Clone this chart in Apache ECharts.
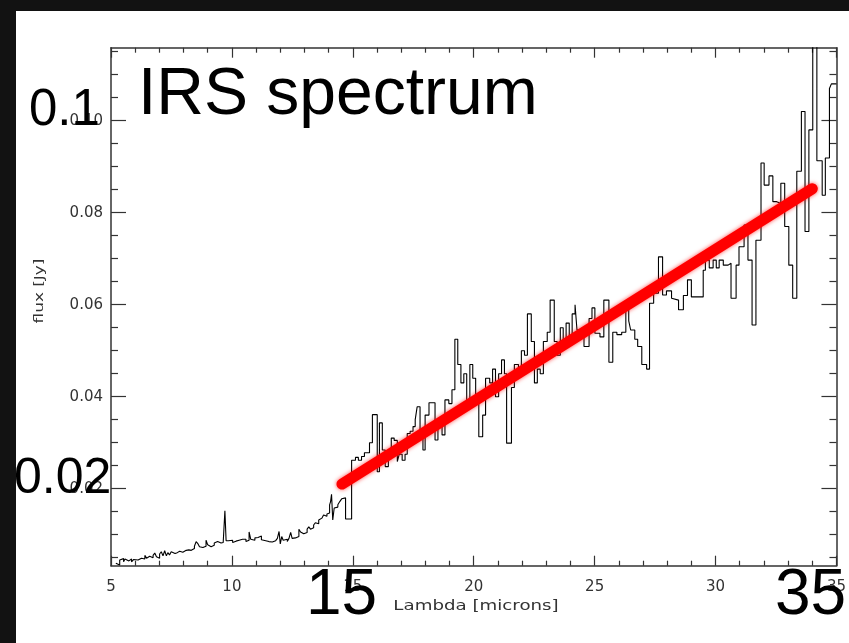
<!DOCTYPE html>
<html>
<head>
<meta charset="utf-8">
<title>IRS spectrum</title>
<script src="https://cdn.jsdelivr.net/npm/echarts@6/dist/echarts.min.js"></script>
<style>
  html, body { margin: 0; padding: 0; background: #ffffff; }
  #chart { width: 849px; height: 643px; }
</style>
</head>
<body>
<div id="chart"></div>
<script>
// Short-wavelength module (5–15 µm): bin start wavelengths [microns] and flux [Jy]
const lamShort = [5.20,5.28,5.36,5.44,5.52,5.58,5.66,5.74,5.85,5.93,5.99,6.12,6.20,6.26,6.34,6.40,6.47,6.54,6.60,6.67,6.74,6.81,6.88,6.94,7.01,7.08,7.15,7.22,7.29,7.35,7.42,7.49,7.56,7.65,7.74,7.84,7.97,8.11,8.22,8.32,8.45,8.52,8.60,8.66,8.73,8.80,8.86,8.93,9.00,9.07,9.14,9.20,9.27,9.34,9.41,9.48,9.55,9.64,9.71,9.76,9.85,9.92,10.03,10.10,10.17,10.30,10.37,10.44,10.51,10.58,10.66,10.71,10.78,10.86,10.95,11.01,11.08,11.15,11.22,11.30,11.40,11.53,11.60,11.67,11.74,11.81,11.88,11.95,12.00,12.06,12.12,12.20,12.29,12.36,12.43,12.49,12.56,12.63,12.70,12.77,12.84,12.90,12.97,13.04,13.11,13.18,13.25,13.31,13.38,13.45,13.52,13.59,13.66,13.72,13.79,13.86,13.93,14.00,14.04,14.08,14.12,14.17,14.23,14.30,14.38,14.46,14.54,14.62,14.70];
const fluxShort = [0.0038,0.0034,0.0045,0.0048,0.0041,0.0047,0.0043,0.0047,0.0041,0.0046,0.0045,0.0044,0.0049,0.0051,0.0047,0.0055,0.0049,0.0053,0.0057,0.0050,0.0055,0.0060,0.0052,0.0049,0.0058,0.0063,0.0054,0.0065,0.0054,0.0061,0.0056,0.0063,0.0059,0.0061,0.0064,0.0062,0.0066,0.0067,0.0066,0.0070,0.0075,0.0085,0.0080,0.0074,0.0072,0.0076,0.0075,0.0088,0.0078,0.0074,0.0077,0.0077,0.0082,0.0085,0.0088,0.0082,0.0083,0.0081,0.0152,0.0087,0.0085,0.0088,0.0083,0.0086,0.0088,0.0085,0.0090,0.0087,0.0090,0.0085,0.0088,0.0106,0.0090,0.0088,0.0093,0.0094,0.0090,0.0097,0.0089,0.0087,0.0085,0.0083,0.0084,0.0086,0.0087,0.0084,0.0092,0.0107,0.0080,0.0096,0.0088,0.0090,0.0085,0.0092,0.0105,0.0092,0.0093,0.0092,0.0096,0.0112,0.0106,0.0102,0.0104,0.0105,0.0112,0.0117,0.0112,0.0115,0.0121,0.0126,0.0124,0.0132,0.0136,0.0138,0.0143,0.0140,0.0145,0.0147,0.0165,0.0172,0.0188,0.0132,0.0158,0.0160,0.0165,0.0172,0.0178,0.0180,0.0134];

// Long-wavelength module (15–35 µm)
const lamLong = [14.95,15.11,15.23,15.36,15.48,15.69,15.81,16.01,16.10,16.22,16.34,16.47,16.59,16.71,16.84,16.92,17.04,17.16,17.25,17.37,17.49,17.58,17.66,17.78,17.90,17.99,18.15,18.40,18.52,18.69,18.81,18.97,19.10,19.22,19.34,19.47,19.59,19.71,19.84,19.96,20.08,20.21,20.37,20.49,20.66,20.78,20.90,21.03,21.15,21.27,21.36,21.56,21.68,21.85,21.97,22.10,22.22,22.38,22.51,22.63,22.75,22.88,23.04,23.16,23.33,23.45,23.58,23.70,23.82,23.95,24.07,24.19,24.27,24.56,24.77,24.89,25.01,25.22,25.38,25.59,25.75,25.92,26.12,26.29,26.41,26.49,26.66,26.78,26.95,27.15,27.27,27.44,27.64,27.81,27.97,28.18,28.26,28.47,28.67,28.84,29.00,29.21,29.49,29.58,29.74,29.90,30.03,30.15,30.32,30.52,30.64,30.85,30.97,31.18,31.34,31.51,31.67,31.88,32.01,32.21,32.37,32.53,32.70,32.86,33.03,33.19,33.36,33.55,33.70,33.86,34.02,34.19,34.41,34.54,34.71,34.79,35.00];
const fluxLong = [0.0262,0.0268,0.0262,0.0270,0.0278,0.0300,0.0361,0.0237,0.0343,0.0284,0.0248,0.0265,0.0310,0.0305,0.0259,0.0275,0.0262,0.0275,0.0320,0.0325,0.0335,0.0350,0.0378,0.0313,0.0284,0.0360,0.0387,0.0306,0.0342,0.0317,0.0393,0.0385,0.0415,0.0525,0.0470,0.0430,0.0450,0.0380,0.0470,0.0440,0.0390,0.0313,0.0360,0.0440,0.0430,0.0460,0.0400,0.0450,0.0480,0.0450,0.0299,0.0420,0.0470,0.0450,0.0500,0.0490,0.0580,0.0520,0.0430,0.0460,0.0450,0.0520,0.0540,0.0610,0.0520,0.0490,0.0550,0.0520,0.0560,0.0530,0.0580,0.0600,0.0545,0.0509,0.0570,0.0593,0.0538,0.0530,0.0610,0.0475,0.0540,0.0535,0.0540,0.0589,0.0565,0.0545,0.0525,0.0509,0.0470,0.0460,0.0603,0.0625,0.0704,0.0621,0.0630,0.0614,0.0610,0.0589,0.0620,0.0654,0.0617,0.0617,0.0675,0.0697,0.0680,0.0697,0.0680,0.0697,0.0686,0.0690,0.0614,0.0686,0.0726,0.0773,0.0697,0.0556,0.0740,0.0908,0.0860,0.0880,0.0824,0.0820,0.0864,0.0770,0.0686,0.0614,0.0890,0.1020,0.0759,0.0980,0.1180,0.0913,0.0838,0.0919,0.1070,0.1080,0.1080];

// Linear fit through the rising continuum
const fitLam = [14.55, 34.0];
const fitFlux = [0.0210, 0.0852];

// Axis ranges and tick values
const xRange = [5, 35];
const yRange = [0.00326, 0.11587];
const yMajorTicks = [0.02, 0.04, 0.06, 0.08, 0.10];
const yMinorTicks = [0.005, 0.01, 0.015, 0.025, 0.03, 0.035, 0.045, 0.05, 0.055, 0.065, 0.07, 0.075, 0.085, 0.09, 0.095, 0.105, 0.11, 0.115];

// Annotation texts
const titleText = 'IRS spectrum';
const xName = 'Lambda [microns]';
const yName = 'flux [Jy]';
const bigLabels = ['0.1', '0.02', '15', '35'];

const lam = lamShort.concat(lamLong);
const flux = fluxShort.concat(fluxLong);
const spectrum = lam.map((l, i) => [l, flux[i]]);
const fit = fitLam.map((l, i) => [l, fitFlux[i]]);

const axisColor = '#333';
const labelFont = 'DejaVu Sans';

function xAxisDef(pos, showLabel) {
  return {
    type: 'value', position: pos, min: xRange[0], max: xRange[1], interval: 5,
    axisLine: { show: true, onZero: false, lineStyle: { color: axisColor, width: 1.5 } },
    axisTick: { show: true, inside: true, length: 10, lineStyle: { color: axisColor, width: 1.2 } },
    minorTick: { show: true, splitNumber: 5, length: 5, lineStyle: { color: axisColor, width: 1.2 } },
    axisLabel: { show: showLabel, fontFamily: labelFont, fontSize: 15, color: '#333', margin: 14,
                 showMinLabel: true, showMaxLabel: true },
    splitLine: { show: false }, minorSplitLine: { show: false }
  };
}

function yAxisDef(pos, ticks, len, showLine, showLabel) {
  return {
    type: 'value', position: pos, min: yRange[0], max: yRange[1],
    axisLine: { show: showLine, onZero: false, lineStyle: { color: axisColor, width: 1.5 } },
    axisTick: { show: true, inside: true, length: len, customValues: ticks, lineStyle: { color: axisColor, width: 1.2 } },
    axisLabel: { show: showLabel, customValues: ticks, fontFamily: labelFont, fontSize: 15, color: '#333', margin: 8,
                 formatter: v => v.toFixed(2) },
    splitLine: { show: false }
  };
}

const chart = echarts.init(document.getElementById('chart'), null, { renderer: 'canvas' });

chart.setOption({
  animation: false,
  backgroundColor: '#ffffff',
  grid: { left: 111, right: 8, top: 47.7, bottom: 77.3, containLabel: false },
  xAxis: [xAxisDef('bottom', true), xAxisDef('top', false)],
  yAxis: [
    yAxisDef('left', yMajorTicks, 15, true, true),
    yAxisDef('left', yMinorTicks, 7, false, false),
    yAxisDef('right', yMajorTicks, 15, true, false),
    yAxisDef('right', yMinorTicks, 7, false, false)
  ],
  series: [
    {
      name: 'spectrum', type: 'line', step: 'end', data: spectrum,
      xAxisIndex: 0, yAxisIndex: 0, symbol: 'none', clip: true, z: 2,
      lineStyle: { color: '#000000', width: 1.1 }
    },
    {
      name: 'fit', type: 'line', data: fit,
      xAxisIndex: 0, yAxisIndex: 0, symbol: 'none', clip: false, z: 3,
      lineStyle: { color: '#ff0000', width: 11, cap: 'round',
                   shadowBlur: 4, shadowColor: 'rgba(255,0,0,0.7)' }
    }
  ],
  graphic: [
    // dark frame along the top and left edges
    { type: 'rect', shape: { x: 0, y: 0, width: 849, height: 11 }, style: { fill: '#121212' }, z: 100 },
    { type: 'rect', shape: { x: 0, y: 0, width: 16, height: 643 }, style: { fill: '#121212' }, z: 100 },
    // axis titles (horizontally stretched thin lettering)
    { type: 'text', x: 476, y: 606, z: 50, scaleX: 1.3, originX: 0, originY: 0,
      style: { text: xName, font: '14px "DejaVu Sans"', fill: '#333', align: 'center', verticalAlign: 'middle' } },
    { type: 'text', x: 40, y: 291, rotation: Math.PI / 2, z: 50, scaleX: 1.3, originX: 0, originY: 0,
      style: { text: yName, font: '13px "DejaVu Sans"', fill: '#333', align: 'center', verticalAlign: 'middle' } },
    // large overlaid annotations
    { type: 'text', x: 138, y: 96, z: 60,
      style: { text: titleText, font: '66px "Liberation Sans"', fill: '#000', align: 'left', verticalAlign: 'middle' } },
    { type: 'text', x: 29, y: 111, z: 60,
      style: { text: bigLabels[0], font: '51px "Liberation Sans"', fill: '#000', align: 'left', verticalAlign: 'middle' } },
    { type: 'text', x: 14, y: 479, z: 60,
      style: { text: bigLabels[1], font: '50px "Liberation Sans"', fill: '#000', align: 'left', verticalAlign: 'middle' } },
    { type: 'text', x: 306, y: 596, z: 60,
      style: { text: bigLabels[2], font: '64px "Liberation Sans"', fill: '#000', align: 'left', verticalAlign: 'middle' } },
    { type: 'text', x: 775, y: 596, z: 60,
      style: { text: bigLabels[3], font: '64px "Liberation Sans"', fill: '#000', align: 'left', verticalAlign: 'middle' } }
  ]
});
</script>
</body>
</html>
